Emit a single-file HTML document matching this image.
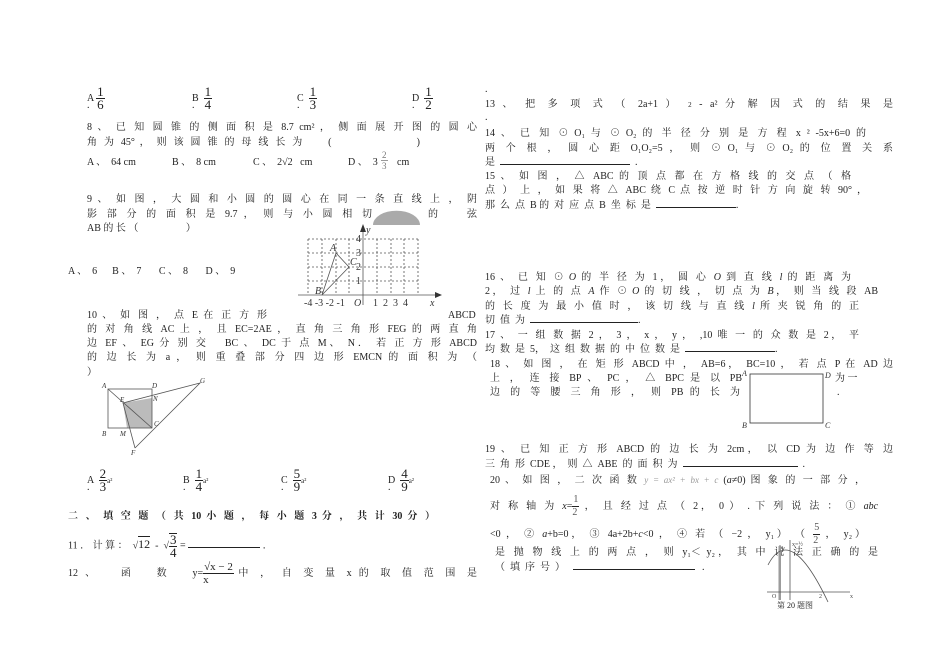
<!DOCTYPE html>
<html><head><meta charset="utf-8"><style>
body{margin:0;width:950px;height:671px;background:#fff;position:relative;overflow:hidden;font-family:"Liberation Serif","Noto Serif CJK SC","Noto Sans CJK SC",serif;color:#222;font-size:10px}
.l{position:absolute;white-space:nowrap;line-height:12px;text-align:justify;text-align-last:justify}
.n{position:absolute;white-space:nowrap;line-height:12px}
.fr{display:inline-block;vertical-align:middle;text-align:center;line-height:12px;font-size:13px}
.fr .t{display:block;border-bottom:1px solid #222;padding:0 1px}
.u{display:inline-block;border-bottom:1px solid #222}
svg{position:absolute;left:0;top:0}
</style></head><body>
<div class="n" style="left:87px;top:86px">A <span class="fr"><span class="t">1</span>6</span></div><div class="n" style="left:87px;top:100px">.</div>
<div class="n" style="left:192px;top:86px">B &nbsp;<span class="fr"><span class="t">1</span>4</span></div><div class="n" style="left:192px;top:100px">.</div>
<div class="n" style="left:297px;top:86px">C &nbsp;<span class="fr"><span class="t">1</span>3</span></div><div class="n" style="left:297px;top:100px">.</div>
<div class="n" style="left:412px;top:86px">D &nbsp;<span class="fr"><span class="t">1</span>2</span></div><div class="n" style="left:412px;top:100px">.</div>

<div class="l" style="left:87px;top:122px;width:390px">8 、 已 知 圆 锥 的 侧 面 积 是 8.7 cm² ， 侧 面 展 开 图 的 圆 心</div>
<div class="l" style="left:87px;top:137px;width:333px">角 为 45° ， 则 该 圆 锥 的 母 线 长 为 &nbsp;&nbsp;&nbsp; ( &nbsp;&nbsp;&nbsp;&nbsp;&nbsp;&nbsp;&nbsp;&nbsp;&nbsp;&nbsp;&nbsp;&nbsp;&nbsp;&nbsp;&nbsp;&nbsp; )</div>
<div class="n" style="left:87px;top:157px">A 、 &nbsp;64 cm</div>
<div class="n" style="left:172px;top:157px">B 、 &nbsp;8 cm</div>
<div class="n" style="left:253px;top:157px">C 、 &nbsp;2√2 &nbsp; cm</div>
<div class="n" style="left:348px;top:157px">D 、 &nbsp;3</div>
<div class="n" style="left:397px;top:157px">cm</div>
<div class="fr" style="position:absolute;left:381px;top:150px;font-size:9px;line-height:10px;color:#777"><span class="t" style="border-color:#999">2</span>3</div>

<div class="l" style="left:87px;top:194px;width:390px">9 、 如 图 ， 大 圆 和 小 圆 的 圆 心 在 同 一 条 直 线 上 ， 阴</div>
<div class="l" style="left:87px;top:209px;width:285px">影 部 分 的 面 积 是 9.7 ， 则 与 小 圆 相 切</div>
<div class="l" style="left:428px;top:209px;width:49px">的 &nbsp; 弦</div>
<div class="n" style="left:87px;top:223px">AB 的 长 （ &nbsp;&nbsp;&nbsp;&nbsp;&nbsp;&nbsp;&nbsp;&nbsp;&nbsp;&nbsp;&nbsp;&nbsp;&nbsp;&nbsp;&nbsp;&nbsp;&nbsp; ）</div>
<div class="n" style="left:68px;top:266px">A 、 &nbsp;6 &nbsp;&nbsp;&nbsp;&nbsp; B 、 &nbsp;7 &nbsp;&nbsp;&nbsp;&nbsp;&nbsp; C 、 &nbsp;8 &nbsp;&nbsp;&nbsp;&nbsp;&nbsp; D 、 &nbsp;9</div>

<div class="l" style="left:87px;top:310px;width:180px">10 、 如 图 ， 点 E 在 正 方 形</div>
<div class="n" style="left:448px;top:310px">ABCD</div>
<div class="l" style="left:87px;top:324px;width:390px">的 对 角 线 AC 上 ， 且 EC=2AE ， 直 角 三 角 形 FEG 的 两 直 角</div>
<div class="l" style="left:87px;top:338px;width:390px">边 EF 、 EG 分 别 交 &nbsp; BC 、 DC 于 点 M、 N． 若 正 方 形 ABCD</div>
<div class="l" style="left:87px;top:352px;width:390px">的 边 长 为 a ， 则 重 叠 部 分 四 边 形 EMCN 的 面 积 为 （</div>
<div class="n" style="left:87px;top:367px">）</div>

<div class="n" style="left:87px;top:468px">A &nbsp;<span class="fr"><span class="t">2</span>3</span><span style="font-size:7px">a²</span></div><div class="n" style="left:87px;top:482px">.</div>
<div class="n" style="left:183px;top:468px">B &nbsp;<span class="fr"><span class="t">1</span>4</span><span style="font-size:7px">a²</span></div><div class="n" style="left:183px;top:482px">.</div>
<div class="n" style="left:281px;top:468px">C &nbsp;<span class="fr"><span class="t">5</span>9</span><span style="font-size:7px">a²</span></div><div class="n" style="left:281px;top:482px">.</div>
<div class="n" style="left:388px;top:468px">D &nbsp;<span class="fr"><span class="t">4</span>9</span><span style="font-size:7px">a²</span></div><div class="n" style="left:388px;top:482px">.</div>

<div class="l" style="left:68px;top:511px;width:367px;font-weight:bold">二 、 填 空 题 （ 共 10 小 题 ， 每 小 题 3 分 ， 共 计 30 分 ）</div>
<div class="n" style="left:68px;top:533px">11 ． 计 算 ： &nbsp;√<span style="border-top:1px solid #222;font-size:12px">12</span> &nbsp;- &nbsp;√<span class="fr" style="border-top:1px solid #222"><span class="t">3</span>4</span> = <span class="u" style="width:72px"></span> ．</div>
<div class="l" style="left:68px;top:561px;width:409px">12 、 &nbsp; 函 &nbsp; 数 &nbsp; y=<span class="fr" style="font-size:11px"><span class="t">√x − 2</span>x</span>中 ， 自 变 量 x 的 取 值 范 围 是</div>

<div class="n" style="left:485px;top:84px">.</div>
<div class="l" style="left:485px;top:99px;width:408px">13 、 把 多 项 式 （ 2a+1 ） <span style="font-size:7px">2</span> - a² 分 解 因 式 的 结 果 是</div>
<div class="n" style="left:485px;top:112px">.</div>
<div class="l" style="left:485px;top:128px;width:381px">14 、 已 知 ⊙ O₁ 与 ⊙ O₂ 的 半 径 分 别 是 方 程 x ² -5x+6=0 的</div>
<div class="l" style="left:485px;top:143px;width:408px">两 个 根 ， 圆 心 距 O₁O₂=5 ， 则 ⊙ O₁ 与 ⊙ O₂ 的 位 置 关 系</div>
<div class="n" style="left:485px;top:157px">是 &nbsp;<span class="u" style="width:130px"></span> &nbsp;.</div>
<div class="l" style="left:485px;top:171px;width:366px">15 、 如 图 ， △ ABC 的 顶 点 都 在 方 格 线 的 交 点 （ 格</div>
<div class="l" style="left:485px;top:185px;width:382px">点 ） 上 ， 如 果 将 △ ABC 绕 C 点 按 逆 时 针 方 向 旋 转 90° ，</div>
<div class="n" style="left:485px;top:200px">那 &nbsp;么 &nbsp;点 &nbsp;B 的 &nbsp;对 &nbsp;应 &nbsp;点 &nbsp;B &nbsp;坐 &nbsp;标 &nbsp;是 &nbsp;<span class="u" style="width:80px"></span>.</div>

<div class="l" style="left:485px;top:272px;width:366px">16 、 已 知 ⊙ <i>O</i> 的 半 径 为 1， 圆 心 <i>O</i> 到 直 线 <i>l</i> 的 距 离 为</div>
<div class="l" style="left:485px;top:286px;width:393px">2， 过 <i>l</i> 上 的 点 <i>A</i> 作 ⊙ <i>O</i> 的 切 线 ， 切 点 为 <i>B</i>， 则 当 线 段 AB</div>
<div class="l" style="left:485px;top:301px;width:374px">的 长 度 为 最 小 值 时 ， 该 切 线 与 直 线 <i>l</i> 所 夹 锐 角 的 正</div>
<div class="n" style="left:485px;top:315px">切 &nbsp;值 &nbsp;为 &nbsp;<span class="u" style="width:108px"></span>.</div>
<div class="l" style="left:485px;top:330px;width:374px">17 、 一 组 数 据 2 ， 3 ， x ， y ， ,10 唯 一 的 众 数 是 2， 平</div>
<div class="n" style="left:485px;top:344px">均 &nbsp;数 &nbsp;是 &nbsp;5， &nbsp;这 &nbsp;组 &nbsp;数 &nbsp;据 &nbsp;的 &nbsp;中 &nbsp;位 &nbsp;数 &nbsp;是 &nbsp;<span class="u" style="width:90px"></span>.</div>
<div class="l" style="left:490px;top:359px;width:403px">18 、 如 图 ， 在 矩 形 ABCD 中 ， AB=6， BC=10 ， 若 点 P 在 AD 边</div>
<div class="l" style="left:490px;top:373px;width:252px">上 ， 连 接 BP 、 PC ， △ BPC 是 以 PB</div>
<div class="n" style="left:835px;top:373px">为 一</div>
<div class="l" style="left:490px;top:387px;width:250px">边 的 等 腰 三 角 形 ， 则 PB 的 长 为</div>
<div class="n" style="left:837px;top:387px">.</div>

<div class="l" style="left:485px;top:444px;width:408px">19 、 已 知 正 方 形 ABCD 的 边 长 为 2cm， 以 CD 为 边 作 等 边</div>
<div class="n" style="left:485px;top:459px">三 &nbsp;角 &nbsp;形 &nbsp;CDE ， &nbsp;则 &nbsp;△ &nbsp;ABE &nbsp;的 &nbsp;面 &nbsp;积 &nbsp;为 &nbsp;<span class="u" style="width:115px"></span> &nbsp;.</div>
<div class="l" style="left:490px;top:474px;width:375px">20 、 如 图 ， 二 次 函 数 <span style="color:#999;font-size:9px;font-style:italic">y = ax² + bx + c</span> (<i>a</i>≠0) 图 象 的 一 部 分 ，</div>
<div class="l" style="left:490px;top:494px;width:388px">对 称 轴 为 <i>x</i>=<span class="fr" style="font-size:10px;color:#555"><span class="t">1</span>2</span> ， 且 经 过 点 （ 2， 0 ） . 下 列 说 法 ： ① <i>abc</i></div>
<div class="l" style="left:490px;top:522px;width:375px">&lt;0 ， ② <i>a</i>+b=0， ③ 4a+2b+<i>c</i>&lt;0 ， ④ 若 （ −2 ， y₁） （ <span class="fr" style="font-size:10px;color:#555"><span class="t">5</span>2</span> ， y₂）</div>
<div class="l" style="left:495px;top:547px;width:383px">是 抛 物 线 上 的 两 点 ， 则 y₁＜ y₂， 其 中 说 法 正 确 的 是</div>
<div class="n" style="left:495px;top:562px">（ &nbsp;填 &nbsp;序 &nbsp;号 &nbsp;） &nbsp;&nbsp;<span class="u" style="width:122px"></span> &nbsp;&nbsp;.</div>
<div class="n" style="left:777px;top:600px;font-size:8px">第 20 题图</div>

<svg width="950" height="671">
<g stroke="#555" fill="none" stroke-width="0.8">
<path d="M373 225 A23 14 0 0 1 420 225" fill="#aaa" stroke="none"/>
<g stroke-dasharray="2,2">
<line x1="308" y1="239" x2="418" y2="239"/><line x1="308" y1="253" x2="418" y2="253"/><line x1="308" y1="267" x2="418" y2="267"/><line x1="308" y1="281" x2="418" y2="281"/>
<line x1="308" y1="239" x2="308" y2="295"/><line x1="322" y1="239" x2="322" y2="295"/><line x1="336" y1="239" x2="336" y2="295"/><line x1="349" y1="239" x2="349" y2="295"/><line x1="377" y1="239" x2="377" y2="295"/><line x1="391" y1="239" x2="391" y2="295"/><line x1="404" y1="239" x2="404" y2="295"/><line x1="418" y1="239" x2="418" y2="295"/>
</g>
<line x1="298" y1="295" x2="435" y2="295"/><line x1="363" y1="305" x2="363" y2="230"/>
<polyline points="322,295 336,253 349,267 322,295"/>
</g>
<path d="M435 292 L442 295 L435 298Z M360 232 L363 224 L366 232Z" fill="#333"/>
<g font-size="10" fill="#333" font-family="Liberation Serif">
<text x="366" y="233" font-style="italic">y</text><text x="430" y="306" font-style="italic">x</text>
<text x="304" y="306">-4 -3 -2 -1</text><text x="354" y="306" font-style="italic">O</text><text x="373" y="306">1 &#160;2 &#160;3 &#160;4</text>
<text x="356" y="242">4</text><text x="356" y="256">3</text><text x="356" y="270">2</text><text x="356" y="284">1</text>
<text x="330" y="251" font-style="italic">A</text><text x="350" y="265" font-style="italic">C</text><text x="315" y="294" font-style="italic">B</text>
</g>
<polygon points="123,403 152,398 152,428 127,428" fill="#bbb"/>
<g stroke="#555" fill="none" stroke-width="0.8">
<rect x="108" y="389" width="44" height="39"/>
<line x1="108" y1="389" x2="152" y2="428"/>
<polyline points="135,448 123,403 200,383 135,448"/>
</g>
<g font-size="7" font-style="italic" fill="#333">
<text x="102" y="388">A</text><text x="152" y="388">D</text><text x="102" y="436">B</text><text x="154" y="426">C</text><text x="120" y="402">E</text><text x="153" y="401">N</text><text x="120" y="436">M</text><text x="200" y="383">G</text><text x="131" y="455">F</text>
</g>
<rect x="750" y="374" width="73" height="49" stroke="#333" fill="none" stroke-width="0.8"/>
<g font-size="8" font-style="italic" fill="#333"><text x="742" y="376">A</text><text x="825" y="378">D</text><text x="742" y="428">B</text><text x="825" y="428">C</text></g>
<g stroke="#555" fill="none" stroke-width="0.8">
<rect x="778" y="546" width="3" height="54" fill="#ccc" stroke="none"/>
<line x1="767" y1="592" x2="850" y2="592"/><line x1="780" y1="600" x2="780" y2="545"/><line x1="790" y1="600" x2="790" y2="540"/>
<path d="M768 565 Q790 522 828 602"/>
</g>
<g font-size="6" fill="#444"><text x="772" y="598">O</text><text x="819" y="598">2</text><text x="850" y="598">x</text><text x="782" y="550">y</text><text x="792" y="546">x=½</text></g>
</svg>
</body></html>
